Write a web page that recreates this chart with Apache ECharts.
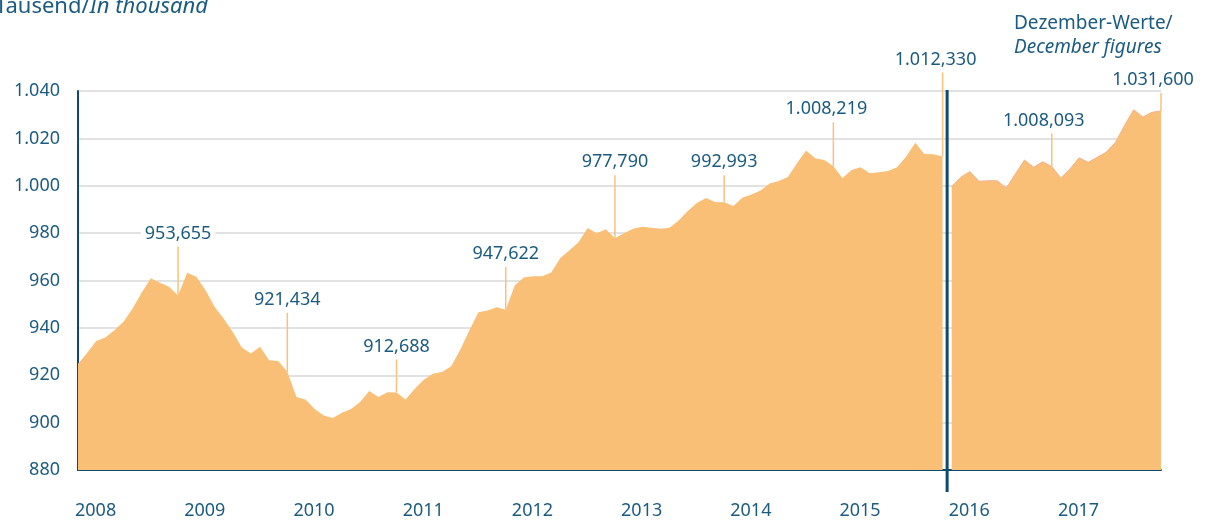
<!DOCTYPE html>
<html>
<head>
<meta charset="utf-8">
<script src="https://cdn.jsdelivr.net/npm/echarts@6/dist/echarts.min.js"></script>
<style>
  html, body { margin: 0; padding: 0; background: #fff; }
  #chart { width: 1213px; height: 522px; }
</style>
</head>
<body>
<div id="chart"></div>
<script>
// Monatswerte in Tausend, Jan..Dez
var y2008 = [924.9, 929.4, 934.5, 935.9, 939.0, 942.6, 948.2, 954.9, 960.9, 959.1, 957.4, 953.655];
var y2009 = [963.3, 961.6, 956.0, 948.9, 944.0, 938.3, 931.7, 929.2, 932.0, 926.3, 926.0, 921.434];
var y2010 = [910.8, 909.8, 905.8, 903.0, 901.9, 904.2, 905.8, 908.7, 913.3, 910.8, 912.8, 912.688];
var y2011 = [909.8, 914.3, 918.1, 920.6, 921.4, 923.8, 930.8, 938.9, 946.6, 947.3, 948.7, 947.622];
var y2012 = [958.0, 961.3, 961.8, 961.8, 963.4, 969.5, 972.8, 976.1, 982.2, 979.9, 981.6, 977.790];
var y2013 = [979.9, 981.8, 982.7, 982.3, 981.8, 982.3, 985.3, 989.3, 992.7, 994.8, 993.1, 992.993];
var y2014 = [991.5, 994.9, 996.3, 998.0, 1000.9, 1002.0, 1003.7, 1009.5, 1014.9, 1011.6, 1010.9, 1008.219];
var y2015 = [1003.3, 1006.7, 1007.8, 1005.3, 1005.7, 1006.2, 1007.8, 1012.3, 1018.2, 1013.4, 1013.3, 1012.330];
var y2016 = [999.6, 1003.6, 1006.0, 1001.9, 1002.1, 1002.1, 999.0, 1005.0, 1010.9, 1007.8, 1010.1, 1008.093];
var y2017 = [1003.3, 1007.1, 1011.8, 1009.9, 1012.0, 1014.2, 1018.4, 1025.5, 1032.1, 1029.0, 1031.0, 1031.600];

var years = [2008, 2009, 2010, 2011, 2012, 2013, 2014, 2015, 2016, 2017];
var oldSeries = [y2008, y2009, y2010, y2011, y2012, y2013, y2014, y2015];
var newSeries = [y2016, y2017];

// Layout der Beschriftungen (Pixel): Länge der Hinweislinie, seitliche Verschiebung
var noteLift  = [49, 59, 33, 43, 63, 27, 44, 84, 33, 18];
var noteShift = [0, 0, 0, 0, 0, 0, -7, -7, -8, -8];

var blue = '#1b5b80';
var axisBlue = '#0d4c6e';
var fill = '#f9bf76';
var font = '"Noto Sans", "DejaVu Sans", sans-serif';

function fmtDe(v) {
  var s = v.toFixed(3).split('.');
  var n = s[0];
  if (n.length > 3) n = n.slice(0, n.length - 3) + '.' + n.slice(n.length - 3);
  return n + ',' + s[1];
}

var oldData = [], newData = [], notes = [];
var idx = 0;
oldSeries.forEach(function (arr) {
  arr.forEach(function (v) { oldData.push([idx, v]); idx++; });
});
newSeries.forEach(function (arr) {
  arr.forEach(function (v) { newData.push([idx, v]); idx++; });
});
oldSeries.concat(newSeries).forEach(function (arr, k) {
  notes.push([k * 12 + 11, arr[11], k]);
});
var breakAt = oldData.length - 0.5;

var myChart = echarts.init(document.getElementById('chart'));

var option = {
  animation: false,
  grid: { left: 78, right: 52, top: 91, bottom: 52 },
  xAxis: {
    type: 'value',
    min: 0,
    max: 119,
    interval: 12,
    axisLine: { show: true, lineStyle: { color: axisBlue, width: 2 } },
    axisTick: { show: false },
    splitLine: { show: false },
    axisLabel: {
      margin: 32,
      align: 'left',
      padding: [0, 0, 0, -3],
      color: blue,
      fontSize: 18,
      fontFamily: font,
      showMaxLabel: false,
      formatter: function (v) {
        return v % 12 === 0 ? String(2008 + v / 12) : '';
      }
    }
  },
  yAxis: {
    type: 'value',
    min: 880,
    max: 1040,
    interval: 20,
    axisLine: { show: true, lineStyle: { color: axisBlue, width: 2 } },
    axisTick: { show: false },
    splitLine: { lineStyle: { color: '#d9d9d9', width: 1.5 } },
    axisLabel: {
      margin: 18,
      color: blue,
      fontSize: 18,
      fontFamily: font,
      formatter: function (v) {
        return v >= 1000 ? '1.' + String(v - 1000).padStart(3, '0') : String(v);
      }
    }
  },
  graphic: [
    {
      type: 'text', left: -5, top: -4,
      style: {
        text: '{r|Tausend/}{i|In thousand}',
        rich: {
          r: { fontSize: 22, fontFamily: font, fill: blue, lineHeight: 26 },
          i: { fontSize: 22, fontFamily: font, fontStyle: 'italic', fill: blue, lineHeight: 26 }
        }
      }
    },
    {
      type: 'text', left: 1014, top: 14,
      style: {
        text: '{r|Dezember-Werte/}\n{i|December figures}',
        rich: {
          r: { fontSize: 19, fontFamily: font, fill: blue, lineHeight: 24 },
          i: { fontSize: 19, fontFamily: font, fontStyle: 'italic', fill: blue, lineHeight: 24 }
        }
      }
    }
  ],
  series: [
    {
      type: 'line',
      data: oldData,
      symbol: 'none',
      lineStyle: { width: 0 },
      areaStyle: { color: fill, opacity: 1, origin: 'start' },
      z: 2
    },
    {
      type: 'line',
      data: newData,
      symbol: 'none',
      lineStyle: { width: 1, color: '#f5b28a' },
      areaStyle: { color: fill, opacity: 1, origin: 'start' },
      z: 2
    },
    {
      type: 'custom',
      clip: false,
      z: 5,
      data: [[breakAt, 1040]],
      renderItem: function (params, api) {
        var top = api.coord([api.value(0), 1040]);
        var bot = api.coord([api.value(0), 880]);
        return {
          type: 'line',
          shape: { x1: top[0], y1: top[1] - 1, x2: bot[0], y2: bot[1] + 22 },
          style: { stroke: axisBlue, lineWidth: 3 }
        };
      }
    },
    {
      type: 'custom',
      clip: false,
      z: 6,
      data: notes,
      renderItem: function (params, api) {
        var k = api.value(2);
        var v = api.value(1);
        var p = api.coord([api.value(0), v]);
        var lineTop = p[1] - noteLift[k];
        return {
          type: 'group',
          children: [
            {
              type: 'line',
              shape: { x1: p[0], y1: p[1], x2: p[0], y2: lineTop },
              style: { stroke: '#f9c27c', lineWidth: 1.5 }
            },
            {
              type: 'text',
              style: {
                text: fmtDe(v),
                x: p[0] + noteShift[k],
                y: lineTop - 13,
                align: 'center',
                verticalAlign: 'middle',
                font: '18px ' + font,
                fill: blue,
                backgroundColor: '#fff',
                padding: [0, 4]
              }
            }
          ]
        };
      }
    }
  ]
};

myChart.setOption(option);
</script>
</body>
</html>
